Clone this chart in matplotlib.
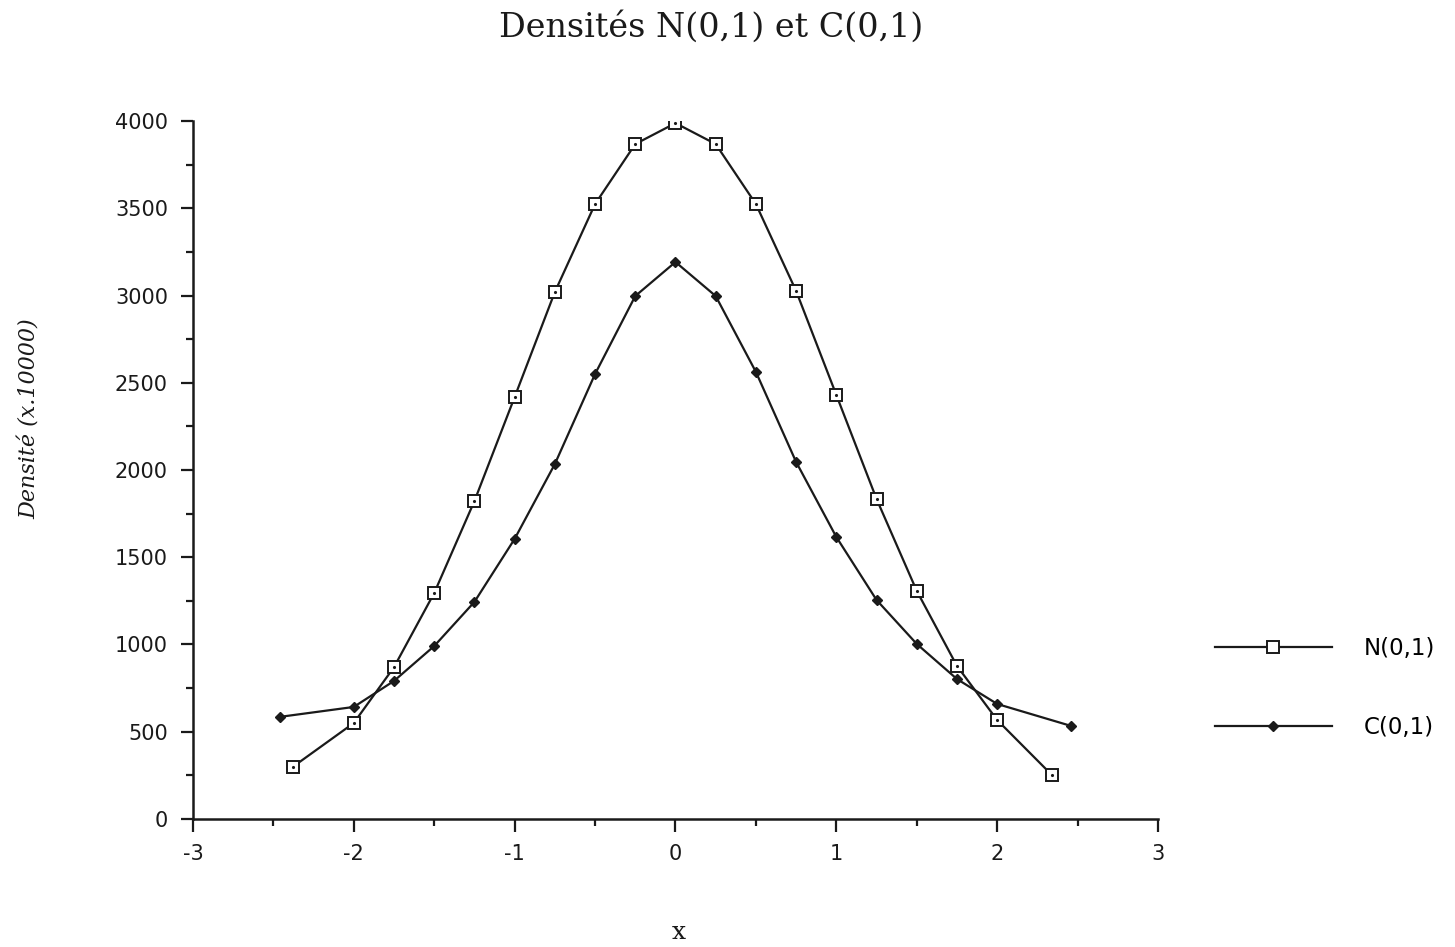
import numpy as np
import matplotlib
matplotlib.use("Agg")
import matplotlib.pyplot as plt

plt.rcParams["axes.unicode_minus"] = False

# N(0,1) density x 10000
x_norm = [-2.38, -2, -1.75, -1.5, -1.25, -1, -0.75, -0.5, -0.25, 0,
          0.25, 0.5, 0.75, 1, 1.25, 1.5, 1.75, 2, 2.34]
y_norm = [298, 550, 870, 1295, 1822, 2418, 3020, 3524, 3868, 3988,
          3868, 3524, 3026, 2430, 1834, 1307, 877, 567, 252]

# C(0,1) density x 10000
x_cauchy = [-2.46, -2, -1.75, -1.5, -1.25, -1, -0.75, -0.5, -0.25, 0,
            0.25, 0.5, 0.75, 1, 1.25, 1.5, 1.75, 2, 2.46]
y_cauchy = [585, 642, 791, 991, 1244, 1605, 2034, 2550, 2997, 3192,
            2997, 2562, 2046, 1616, 1255, 1003, 802, 659, 533]

labels = ["N(0,1)", "C(0,1)"]

fig = plt.figure(figsize=(14.55, 9.47), dpi=100)
ax = fig.add_axes([0.1326, 0.1352, 0.6633, 0.7370])

ln_n, = ax.plot(x_norm, y_norm, color="#1a1a1a", lw=1.6, marker="s", ms=8,
                mfc="white", mec="#1a1a1a", mew=1.4)
ax.plot(x_norm, y_norm, ls="none", marker=".", ms=2.5, color="#1a1a1a")
ln_c, = ax.plot(x_cauchy, y_cauchy, color="#1a1a1a", lw=1.6, marker="D", ms=5.5,
                mfc="#1a1a1a", mec="#1a1a1a")

ax.set_xlim(-3, 3)
ax.set_ylim(0, 4000)
ax.set_xticks(np.arange(-3, 4, 1))
ax.set_xticks(np.arange(-2.5, 3, 1), minor=True)
ax.set_yticks(np.arange(0, 4001, 500))
ax.set_yticks(np.arange(250, 4000, 500), minor=True)

for s in ["top", "right"]:
    ax.spines[s].set_visible(False)
for s in ["left", "bottom"]:
    ax.spines[s].set_linewidth(1.8)
    ax.spines[s].set_color("#1a1a1a")

ax.tick_params(which="major", length=9, width=1.6, color="#1a1a1a",
               labelsize=15, pad=9, labelcolor="#1a1a1a")
ax.tick_params(which="minor", length=5, width=1.6, color="#1a1a1a")

fig.text(0.489, 0.971, "Densités N(0,1) et C(0,1)", ha="center", va="center",
         family="DejaVu Serif", fontsize=24, color="#1a1a1a")
fig.text(0.0206, 0.558, "Densité (x.10000)", rotation=90, ha="center", va="center",
         family="DejaVu Serif", style="italic", fontsize=16, color="#1a1a1a")
fig.text(0.4667, 0.0148, "x", ha="center", va="center",
         family="DejaVu Serif", fontsize=18, color="#1a1a1a")

fig.legend([ln_n, ln_c], labels, loc="center left",
           bbox_to_anchor=(0.827, 0.2735), frameon=False, fontsize=16.5,
           handlelength=5.1, handletextpad=1.4, labelspacing=2.45, borderpad=0)

fig.savefig("out.png", dpi=100, facecolor="white")
